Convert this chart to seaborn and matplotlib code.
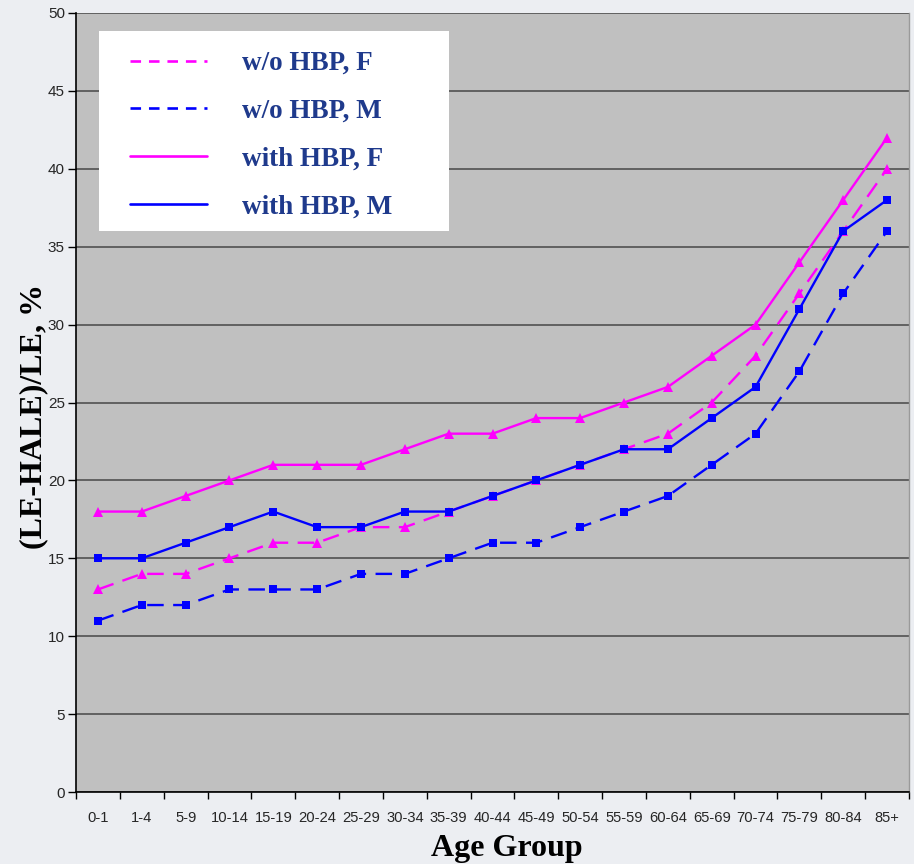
import matplotlib
matplotlib.use("Agg")
import matplotlib.pyplot as plt
import seaborn as sns
import pandas as pd
import numpy as np
from matplotlib.lines import Line2D
from matplotlib.patches import Rectangle
from matplotlib.ticker import MultipleLocator, FixedLocator

age_groups = ["0-1", "1-4", "5-9", "10-14", "15-19", "20-24", "25-29", "30-34", "35-39",
              "40-44", "45-49", "50-54", "55-59", "60-64", "65-69", "70-74", "75-79", "80-84", "85+"]
wo_hbp_f = [13, 14, 14, 15, 16, 16, 17, 17, 18, 19, 20, 21, 22, 23, 25, 28, 32, 36, 40]
wo_hbp_m = [11, 12, 12, 13, 13, 13, 14, 14, 15, 16, 16, 17, 18, 19, 21, 23, 27, 32, 36]
with_hbp_f = [18, 18, 19, 20, 21, 21, 21, 22, 23, 23, 24, 24, 25, 26, 28, 30, 34, 38, 42]
with_hbp_m = [15, 15, 16, 17, 18, 17, 17, 18, 18, 19, 20, 21, 22, 22, 24, 26, 31, 36, 38]
series_names = ["w/o HBP, F", "w/o HBP, M", "with HBP, F", "with HBP, M"]

sns.set_theme(style="white")
plt.rcParams['font.family'] = ['Liberation Sans', 'DejaVu Sans']

W, H = 914, 864
AX_L, AX_R, AX_T, AX_B = 76, 909, 13, 792
AW, AH = AX_R - AX_L, AX_B - AX_T

fig = plt.figure(figsize=(W / 100, H / 100), dpi=100, facecolor="#eceef2")
ax = fig.add_axes([AX_L / W, (H - AX_B) / H, AW / W, AH / H])
ax.set_facecolor("#c0c0c0")

x = np.arange(len(age_groups))
MAG = "#ff00ff"
BLU = "#0000ff"
styles = [
    (wo_hbp_f, MAG, "--", "^"),
    (wo_hbp_m, BLU, "--", "s"),
    (with_hbp_f, MAG, "-", "^"),
    (with_hbp_m, BLU, "-", "s"),
]
for (vals, col, ls, mk), name in zip(styles, series_names):
    df = pd.DataFrame({"x": x, "y": vals})
    sns.lineplot(data=df, x="x", y="y", ax=ax, color=col, linewidth=1.7,
                 marker=mk, markersize=6.5 if mk == "^" else 6.0, markeredgewidth=0,
                 dashes=False, legend=False, zorder=3)
    line = ax.lines[-1]
    line.set_linestyle(ls)
    if ls == "--":
        line.set_dashes([7, 4])

ax.set_xlim(-0.5, len(age_groups) - 0.5)
ax.set_ylim(0, 50)
ax.yaxis.set_major_locator(MultipleLocator(5))
ax.grid(axis="y", color="#5a5a5a", linewidth=1.3, zorder=1)
ax.grid(axis="x", visible=False)
ax.set_axisbelow(True)

ax.set_xticks(x)
ax.set_xticklabels(age_groups, fontsize=10.6)
ax.xaxis.set_minor_locator(FixedLocator(np.arange(-0.5, len(age_groups), 1)))
ax.tick_params(axis="x", which="major", length=0, pad=14)
ax.tick_params(axis="x", which="minor", length=5, width=1, color="black", direction="out", bottom=True)
ax.tick_params(axis="y", which="major", length=6, width=1, color="black", direction="out", left=True, labelsize=11, pad=2)

for s in ["left", "bottom"]:
    ax.spines[s].set_color("black")
    ax.spines[s].set_linewidth(1.2)
ax.spines["top"].set_visible(False)
ax.spines["right"].set_color("#9a9a9a")
ax.spines["right"].set_linewidth(1)

ax.set_xlabel("Age Group", fontsize=23, fontweight="bold", family=['Liberation Serif', 'DejaVu Serif'],
              color="black")
ax.set_ylabel("(LE-HALE)/LE, %", fontsize=23, fontweight="bold", family=['Liberation Serif', 'DejaVu Serif'],
              color="black")
ax.xaxis.set_label_coords((507 - AX_L) / AW, -(834 - AX_B) / AH)
ax.yaxis.set_label_coords(-(AX_L - 48) / AW, 1 - (416 - AX_T) / AH)

# legend box (white panel)
box = Rectangle(((99 - AX_L) / AW, 1 - (231 - AX_T) / AH), 350 / AW, 200 / AH, transform=ax.transAxes,
                facecolor="white", edgecolor="none", zorder=4)
ax.add_patch(box)

handles = []
for (_, c, ls, _) in styles:
    h = Line2D([0], [0], color=c, linewidth=1.9, linestyle=ls)
    if ls == "--":
        h.set_dashes([4, 3])
    handles.append(h)
leg = ax.legend(handles, series_names, loc="upper left",
                bbox_to_anchor=((130 - AX_L) / AW, 1 - (51 - AX_T) / AH),
                frameon=False,
                prop={"family": ['Liberation Serif', 'DejaVu Serif'], "weight": "bold", "size": 19.5},
                handlelength=2.85, handletextpad=1.3, labelspacing=0.84, borderpad=0, borderaxespad=0)
for t in leg.get_texts():
    t.set_color("#1f3a8c")
leg.set_zorder(5)

fig.savefig("out.png", dpi=100, facecolor=fig.get_facecolor())
